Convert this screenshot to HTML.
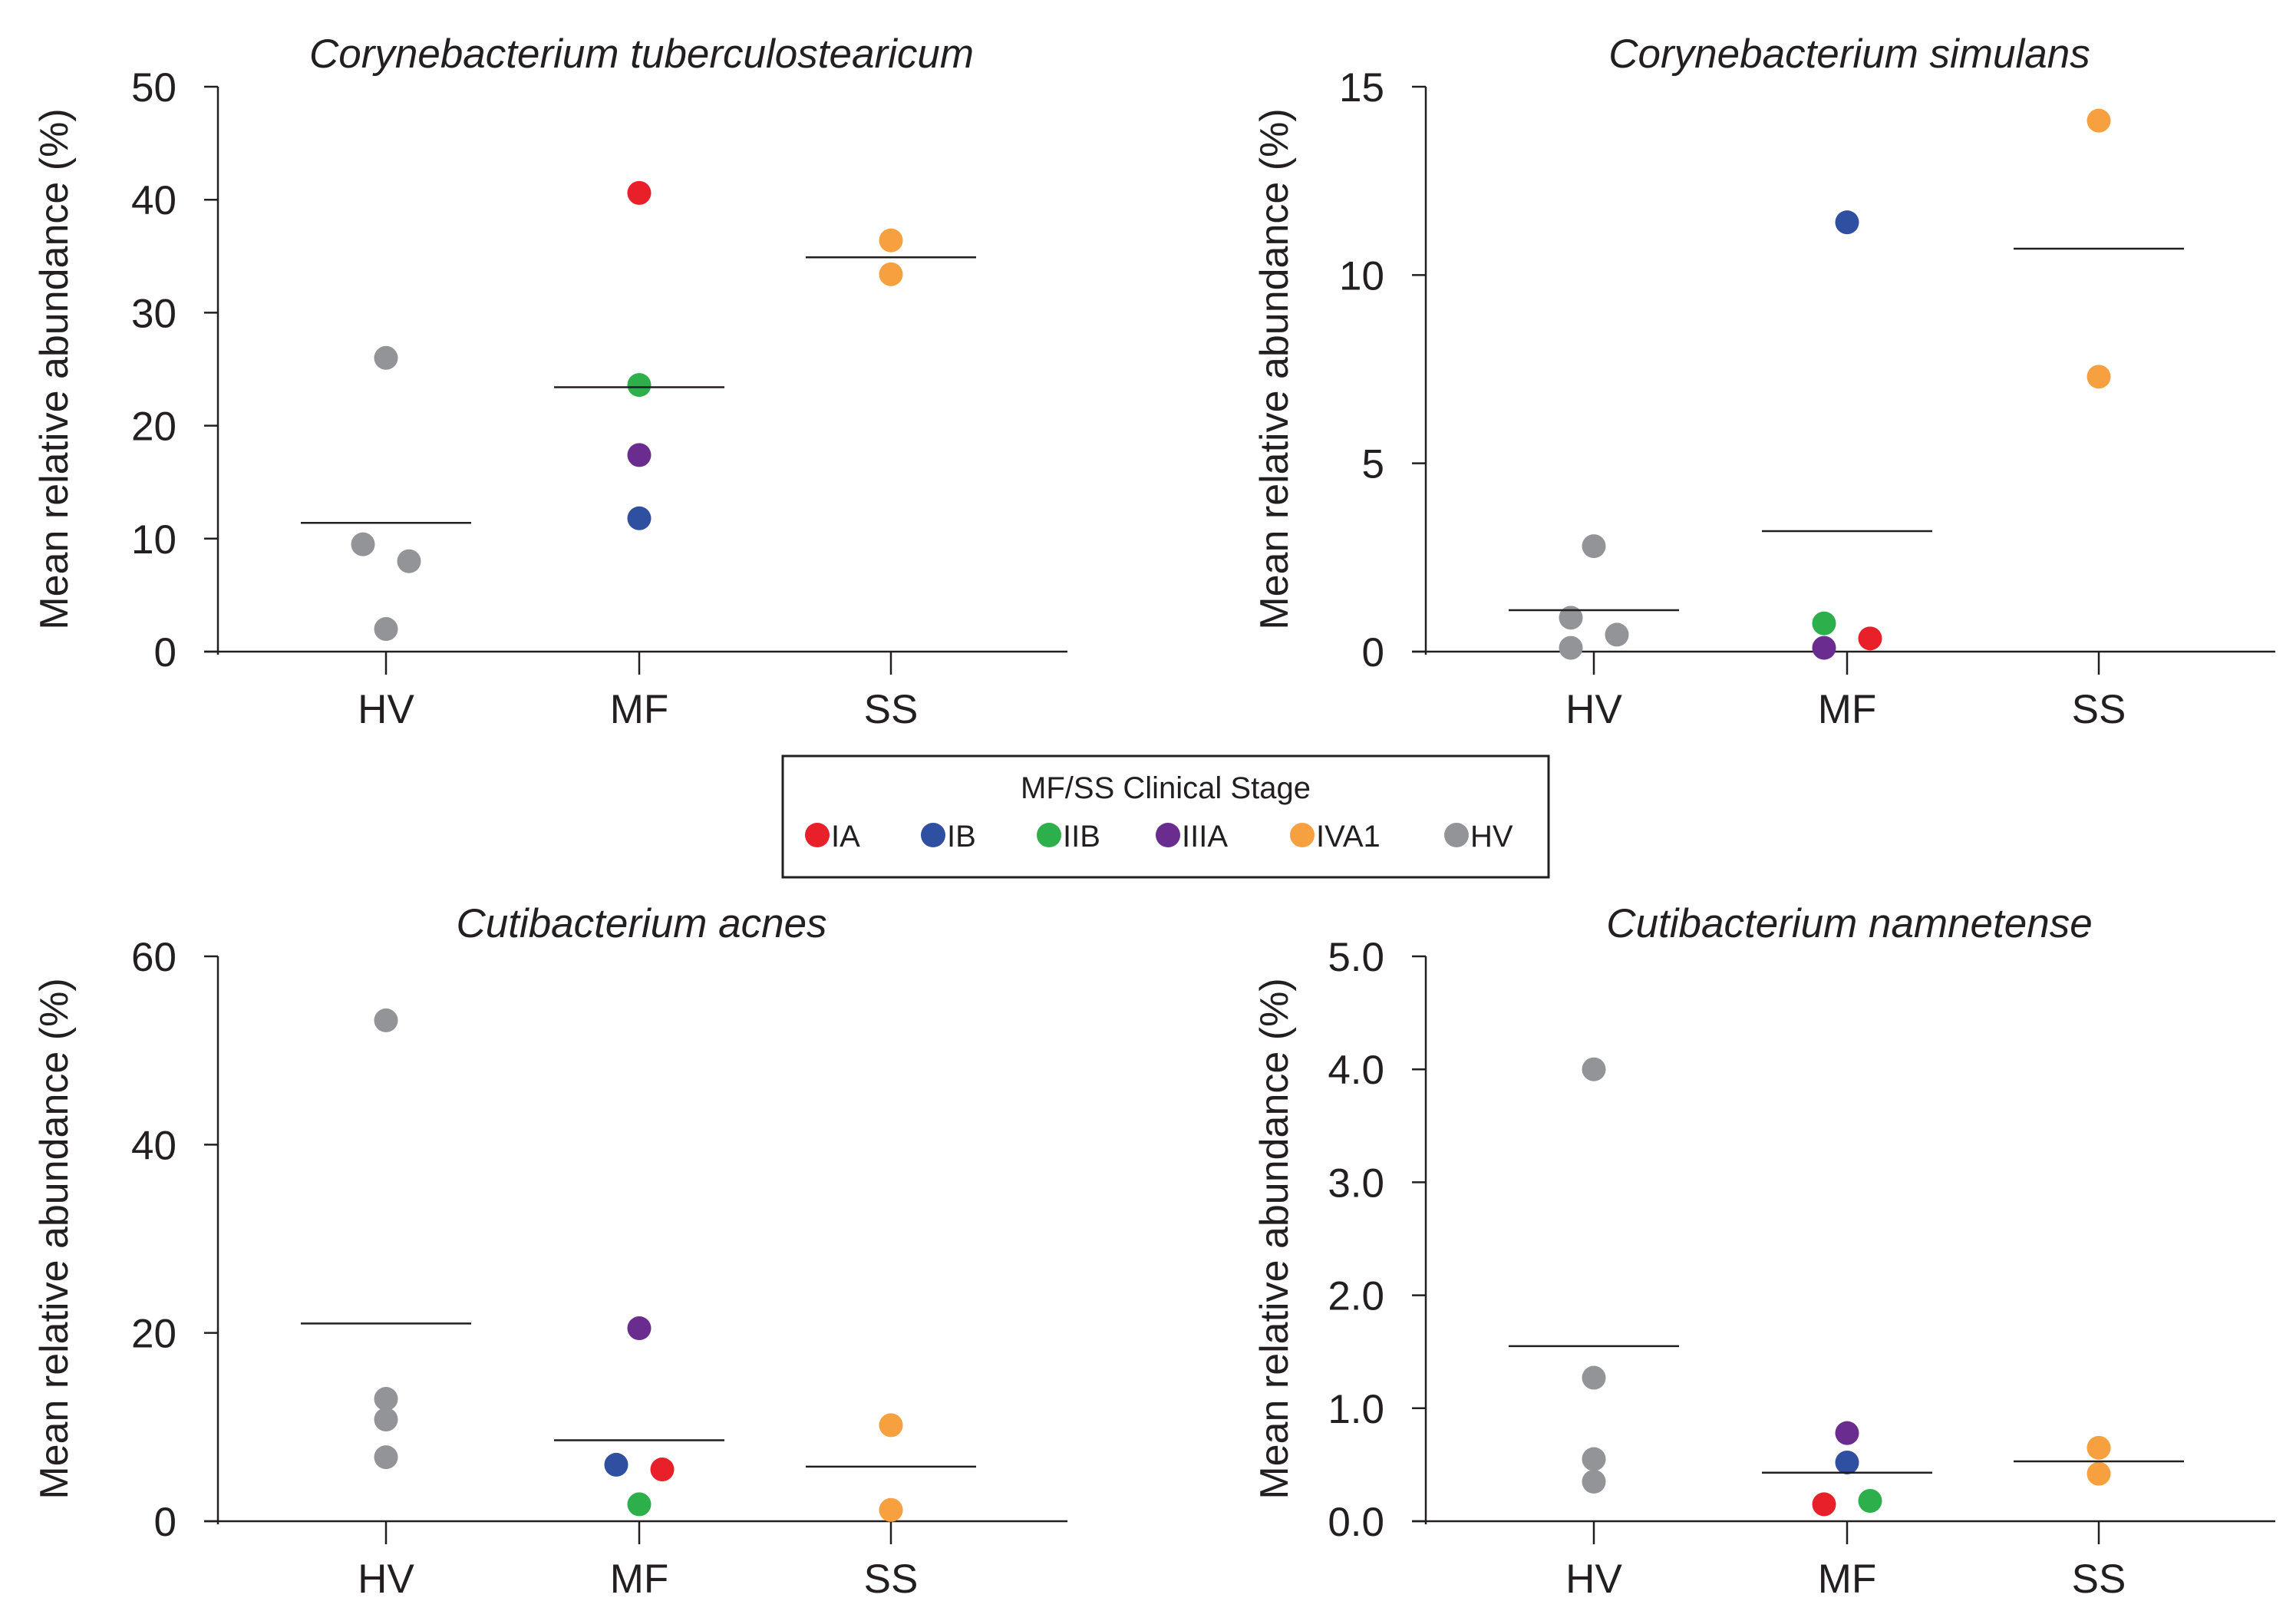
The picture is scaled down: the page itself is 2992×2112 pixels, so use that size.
<!DOCTYPE html>
<html><head><meta charset="utf-8"><style>
html,body{margin:0;padding:0;background:#fff;}
svg{display:block;}
text{font-family:"Liberation Sans Narrow","Liberation Sans",sans-serif;fill:#231f20;}
</style></head><body>
<svg id="chart" width="2992" height="2112" viewBox="0 0 2992 2112" xmlns="http://www.w3.org/2000/svg">
<g id="legend">
<rect x="1020" y="985" width="998" height="158" fill="#fff" stroke="#231f20" stroke-width="3"/>
<text x="1519" y="1040" font-size="40" text-anchor="middle">MF/SS Clinical Stage</text>
</g>
</svg>
<script>
const colors = {IA:"#e8202a",IB:"#2f4fa0",IIB:"#2db04b",IIIA:"#6a2c8f",IVA1:"#f7a040",HV:"#929497"};
const legendLabels = ["IA","IB","IIB","IIIA","IVA1","HV"];
const categories = ["HV","MF","SS"];

// Panel 1: Corynebacterium tuberculostearicum
const p1Values = [26, 9.5, 8, 2, 40.6, 23.6, 17.4, 11.8, 36.4, 33.4];
const p1Groups = ["HV","HV","HV","HV","MF","MF","MF","MF","SS","SS"];
const p1Stages = ["HV","HV","HV","HV","IA","IIB","IIIA","IB","IVA1","IVA1"];
const p1Jitter = [0,-1,1,0,0,0,0,0,0,0];
const p1Means = [11.4, 23.4, 34.9];
const p1Ticks = ["0","10","20","30","40","50"];

// Panel 2: Corynebacterium simulans
const p2Values = [2.8, 0.9, 0.1, 0.45, 11.4, 0.75, 0.1, 0.35, 14.1, 7.3];
const p2Groups = ["HV","HV","HV","HV","MF","MF","MF","MF","SS","SS"];
const p2Stages = ["HV","HV","HV","HV","IB","IIB","IIIA","IA","IVA1","IVA1"];
const p2Jitter = [0,-1,-1,1,0,-1,-1,1,0,0];
const p2Means = [1.1, 3.2, 10.7];
const p2Ticks = ["0","5","10","15"];

// Panel 3: Cutibacterium acnes
const p3Values = [53.2, 13, 10.8, 6.8, 20.5, 6, 5.5, 1.8, 10.2, 1.2];
const p3Groups = ["HV","HV","HV","HV","MF","MF","MF","MF","SS","SS"];
const p3Stages = ["HV","HV","HV","HV","IIIA","IB","IA","IIB","IVA1","IVA1"];
const p3Jitter = [0,0,0,0,0,-1,1,0,0,0];
const p3Means = [21, 8.6, 5.8];
const p3Ticks = ["0","20","40","60"];

// Panel 4: Cutibacterium namnetense
const p4Values = [4.0, 1.27, 0.55, 0.35, 0.78, 0.52, 0.15, 0.18, 0.65, 0.42];
const p4Groups = ["HV","HV","HV","HV","MF","MF","MF","MF","SS","SS"];
const p4Stages = ["HV","HV","HV","HV","IIIA","IB","IA","IIB","IVA1","IVA1"];
const p4Jitter = [0,0,0,0,0,0,-1,1,0,0];
const p4Means = [1.55, 0.43, 0.53];
const p4Ticks = ["0.0","1.0","2.0","3.0","4.0","5.0"];

const NS = "http://www.w3.org/2000/svg";
const svg = document.getElementById("chart");
function mk(tag, attrs, parent){
  const e = document.createElementNS(NS, tag);
  for (const k in attrs) e.setAttribute(k, attrs[k]);
  (parent||svg).appendChild(e);
  return e;
}

function panel(id, title, ox, oy, ytOff, values, groups, stages, jitter, means, ticks){
  const g = mk("g", {});
  
  
  const left = ox, top = oy, bottom = oy + 736, right = ox + 1107;
  const ymax = parseFloat(ticks[ticks.length-1]);
  const y = v => bottom - (v / ymax) * (bottom - top);
  const catX = [ox + 219, ox + 549, ox + 877];
  const x = c => catX[categories.indexOf(c)];

  const t = mk("text", {x: ox + 552, y: top - 25, "font-size": 53, "font-style": "italic", "text-anchor": "middle"}, g);
  t.textContent = title;
  
  

  const yt = mk("text", {x: 0, y: 0, "font-size": 52, "text-anchor": "middle", transform: `translate(${ox-ytOff},${(top+bottom)/2}) rotate(-90)`}, g);
  yt.textContent = "Mean relative abundance (%)";
  
  

  const ya = mk("line", {x1: left, y1: top, x2: left, y2: bottom + 4, stroke: "#231f20", "stroke-width": 2.5}, g);
  
  
  const xa = mk("line", {x1: left - 18, y1: bottom, x2: right, y2: bottom, stroke: "#231f20", "stroke-width": 2.5}, g);
  
  

  ticks.forEach(tk => {
    const v = parseFloat(tk), yy = y(v);
    mk("line", {x1: left - 18, y1: yy, x2: left, y2: yy, stroke: "#231f20", "stroke-width": 2.5}, g);
    const tl = mk("text", {x: left - 54, y: yy + 19, "font-size": 53, "text-anchor": "end"}, g);
    tl.textContent = tk;
    
    
  });
  categories.forEach(c => {
    mk("line", {x1: x(c), y1: bottom, x2: x(c), y2: bottom + 30, stroke: "#231f20", "stroke-width": 2.5}, g);
    const cl = mk("text", {x: x(c), y: bottom + 93, "font-size": 53, "text-anchor": "middle"}, g);
    cl.textContent = c;
    
    
  });
  values.forEach((v, i) => {
    const d = mk("circle", {cx: x(groups[i]) + jitter[i] * 30, cy: y(v), r: 15.5, fill: colors[stages[i]]}, g);
    
    
  });
  means.forEach((m, i) => {
    const cx = catX[i];
    const ml = mk("line", {x1: cx - 111, y1: y(m), x2: cx + 111, y2: y(m), stroke: "#231f20", "stroke-width": 2.5}, g);
    
    
  });
}

panel("panel-c-tuberculostearicum", "Corynebacterium tuberculostearicum", 284, 113, 196, p1Values, p1Groups, p1Stages, p1Jitter, p1Means, p1Ticks);
panel("panel-c-simulans", "Corynebacterium simulans", 1858, 113, 180, p2Values, p2Groups, p2Stages, p2Jitter, p2Means, p2Ticks);
panel("panel-c-acnes", "Cutibacterium acnes", 284, 1246, 196, p3Values, p3Groups, p3Stages, p3Jitter, p3Means, p3Ticks);
panel("panel-c-namnetense", "Cutibacterium namnetense", 1858, 1246, 180, p4Values, p4Groups, p4Stages, p4Jitter, p4Means, p4Ticks);

const legend = document.getElementById("legend");
const legX = [1065, 1216, 1367, 1522, 1697, 1898];
legendLabels.forEach((lb, i) => {
  const c = mk("circle", {cx: legX[i], cy: 1088, r: 16, fill: colors[lb]}, legend);
  
  
  const t = mk("text", {x: legX[i] + 18, y: 1103, "font-size": 40}, legend);
  t.textContent = lb;
  
  
});
</script>
</body></html>
